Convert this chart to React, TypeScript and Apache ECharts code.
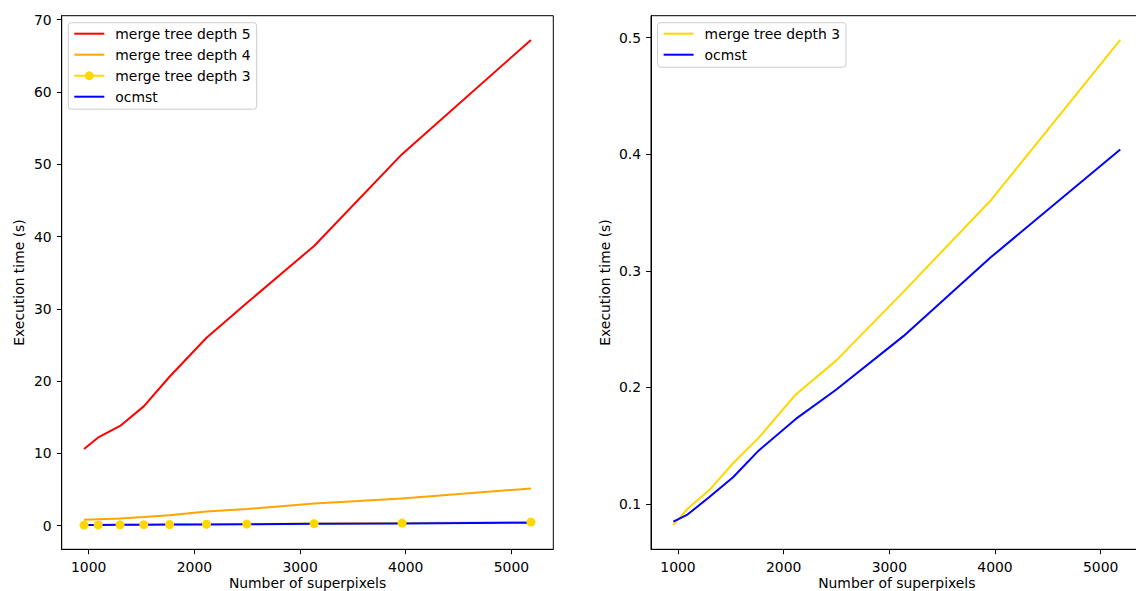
import React, { useEffect, useRef } from "react";
import * as echarts from "echarts";

const superpixels = [956, 1090, 1297, 1521, 1765, 2115, 2496, 3133, 3965, 5185];
const depth5 = [10.6, 12.2, 13.8, 16.5, 20.6, 26.0, 30.8, 38.7, 51.4, 67.2];
const depth4 = [0.8, 0.88, 1.0, 1.2, 1.45, 1.95, 2.3, 3.05, 3.75, 5.15];
const depth3 = [0.082, 0.096, 0.112, 0.135, 0.157, 0.194, 0.223, 0.282, 0.361, 0.498];
const ocmst = [0.085, 0.091, 0.106, 0.123, 0.146, 0.173, 0.198, 0.244, 0.312, 0.404];

const xTicks = [1000, 2000, 3000, 4000, 5000];
const yTicksLeft = [0, 10, 20, 30, 40, 50, 60, 70];
const yTicksRight = [0.1, 0.2, 0.3, 0.4, 0.5];

const FONT = "DejaVu Sans";
const FS = 13.9;

function padRange(values: number[]): [number, number] {
  const lo = Math.min(...values);
  const hi = Math.max(...values);
  const m = (hi - lo) * 0.05;
  return [lo - m, hi + m];
}

const pairs = (ys: number[]) => superpixels.map((x, i) => [x, ys[i]]);

export default function App() {
  const ref = useRef<HTMLDivElement>(null);
  useEffect(() => {
    if (!ref.current) return;
    const chart = echarts.init(ref.current, null, { renderer: "svg" });
    const [xMin, xMax] = padRange(superpixels);
    const [yLMin, yLMax] = padRange([...depth5, ...depth4, ...depth3, ...ocmst]);
    const [yRMin, yRMax] = padRange([...depth3, ...ocmst]);

    const textStyle = { fontFamily: FONT, fontSize: FS, color: "#000" };

    const xAxisBase = (gridIndex: number) => ({
      type: "value",
      gridIndex,
      min: xMin,
      max: xMax,
      name: "Number of superpixels",
      nameLocation: "middle",
      nameGap: 27,
      nameMoveOverlap: false,
      nameTextStyle: textStyle,
      axisLine: { show: true, onZero: false, lineStyle: { color: "#000", width: 1 } },
      axisTick: { show: true, length: 4.9, customValues: xTicks, lineStyle: { color: "#000", width: 1 } },
      axisLabel: { ...textStyle, margin: 11, customValues: xTicks, formatter: (v: number) => String(v) },
      splitLine: { show: false },
    });

    const yAxisBase = (gridIndex: number, min: number, max: number, ticks: number[], gap: number) => ({
      type: "value",
      gridIndex,
      min,
      max,
      name: "Execution time (s)",
      nameLocation: "middle",
      nameRotate: 90,
      nameGap: gap,
      nameTextStyle: textStyle,
      axisLine: { show: true, onZero: false, lineStyle: { color: "#000", width: 1 } },
      axisTick: { show: true, length: 4.9, customValues: ticks, lineStyle: { color: "#000", width: 1 } },
      axisLabel: { ...textStyle, margin: 10, customValues: ticks, formatter: (v: number) => String(v) },
      splitLine: { show: false },
    });

    const legendBase = {
      orient: "vertical",
      top: 22.7,
      itemWidth: 30,
      itemHeight: 11,
      itemGap: 7,
      padding: [4, 6, 5.5, 5],
      backgroundColor: "rgba(255,255,255,0.8)",
      borderColor: "#cccccc",
      borderWidth: 1,
      borderRadius: 3,
      selectedMode: false,
      textStyle: { ...textStyle, lineHeight: 14, padding: [0, 0, 0, 6] },
    };

    const lineOnly = (name: string) => ({ name, itemStyle: { opacity: 0 } });

    const lineSeries = (name: string, ys: number[], color: string, idx: number, extra: any = {}) => ({
      type: "line",
      name,
      xAxisIndex: idx,
      yAxisIndex: idx,
      data: pairs(ys),
      symbol: "none",
      lineStyle: { color, width: 2 },
      itemStyle: { color },
      emphasis: { disabled: true },
      ...extra,
    });

    const gridBase = {
      top: 15.7,
      width: 491.6,
      height: 533.6,
      show: true,
      borderColor: "#000",
      borderWidth: 1,
      backgroundColor: "transparent",
      containLabel: false,
      outerBoundsMode: "none",
    };

    chart.setOption({
      animation: false,
      backgroundColor: "#ffffff",
      grid: [
        { ...gridBase, left: 61.7 },
        { ...gridBase, left: 651 },
      ],
      xAxis: [xAxisBase(0), xAxisBase(1)],
      yAxis: [
        yAxisBase(0, yLMin, yLMax, yTicksLeft, 36),
        yAxisBase(1, yRMin, yRMax, yTicksRight, 39),
      ],
      legend: [
        {
          ...legendBase,
          left: 68.3,
          data: [
            lineOnly("merge tree depth 5"),
            lineOnly("merge tree depth 4"),
            { name: "merge tree depth 3" },
            lineOnly("ocmst"),
          ],
        },
        {
          ...legendBase,
          left: 657.6,
          data: [lineOnly("merge tree depth 3 "), lineOnly("ocmst ")],
          formatter: (n: string) => n.trim(),
        },
      ],
      series: [
        lineSeries("merge tree depth 5", depth5, "#ff0000", 0),
        lineSeries("merge tree depth 4", depth4, "#ffa500", 0),
        lineSeries("merge tree depth 3", depth3, "#ffd700", 0, { symbol: "circle", symbolSize: 9, showSymbol: true }),
        lineSeries("ocmst", ocmst, "#0000ff", 0, { z: 3 }),
        lineSeries("merge tree depth 3 ", depth3, "#ffd700", 1),
        lineSeries("ocmst ", ocmst, "#0000ff", 1, { z: 3 }),
      ],
    });
    return () => chart.dispose();
  }, []);
  return <div ref={ref} style={{ position: "absolute", left: 0, top: 0, width: 1136, height: 591 }} />;
}
